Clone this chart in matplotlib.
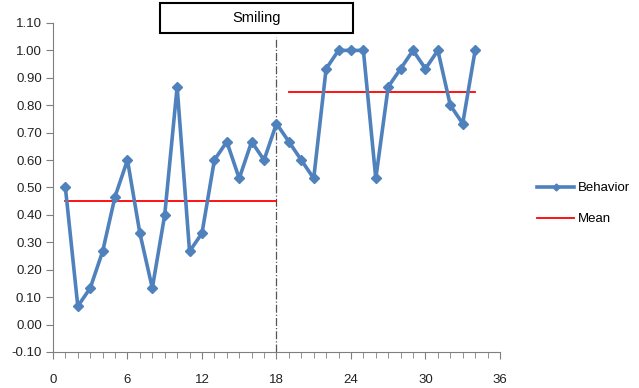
import matplotlib.pyplot as plt
import matplotlib.patches as patches
from matplotlib.ticker import MultipleLocator

plt.rcParams['font.family'] = ['Liberation Sans', 'DejaVu Sans']
plt.rcParams['font.size'] = 9.5

# session numbers and behavior proportions
sessions = list(range(1, 35))
behavior = [0.50, 0.067, 0.133, 0.267, 0.467, 0.60, 0.333, 0.133, 0.40, 0.867,
            0.267, 0.333, 0.60, 0.667, 0.533, 0.667, 0.60, 0.733,
            0.667, 0.60, 0.533, 0.933, 1.00, 1.00, 1.00, 0.533, 0.867, 0.933,
            1.00, 0.933, 1.00, 0.80, 0.733, 1.00]

# phase means (start session, end session, mean)
phase_start = [1, 19]
phase_end = [18, 34]
phase_mean = [0.45, 0.85]
phase_change = 18
title = 'Smiling'

fig = plt.figure(figsize=(6.39, 3.88), dpi=100)
ax = fig.add_axes([0.0829, 0.0928, 0.6995, 0.848])

blue = '#4F81BD'
ax.plot(sessions, behavior, color=blue, lw=2.6, marker='D', ms=5,
        label='Behavior', zorder=3)
for i in range(len(phase_mean)):
    ax.plot([phase_start[i], phase_end[i]], [phase_mean[i], phase_mean[i]],
            color='#FF0000', lw=1.3, label='Mean' if i == 0 else None, zorder=2)

ax.plot([phase_change, phase_change], [-0.1, 1.05], color='#555555', lw=0.9,
        ls='-.', zorder=1)

ax.set_xlim(0, 36)
ax.set_ylim(-0.1, 1.1)
ax.xaxis.set_major_locator(MultipleLocator(6))
ax.xaxis.set_minor_locator(MultipleLocator(1))
ax.yaxis.set_major_locator(MultipleLocator(0.1))
ax.yaxis.set_major_formatter(plt.FuncFormatter(lambda v, p: '%.2f' % v))
for s in ['top', 'right']:
    ax.spines[s].set_visible(False)
for s in ['left', 'bottom']:
    ax.spines[s].set_color('#7F7F7F')
ax.tick_params(axis='x', which='major', length=5, pad=11, color='#7F7F7F', labelcolor='#222222')
ax.tick_params(axis='x', which='minor', length=4, color='#7F7F7F')
ax.tick_params(axis='y', length=5, pad=3, color='#7F7F7F', labelcolor='#222222')

leg = ax.legend(loc='center left', bbox_to_anchor=(0.826, 0.475), bbox_transform=fig.transFigure,
                frameon=False, handlelength=2.8, labelspacing=1.4, handletextpad=0.3,
                fontsize=9.5, markerscale=0.7, borderpad=0.2)

fig.patches.append(patches.Rectangle((160 / 639, 1 - 33 / 388), 193 / 639, 30 / 388,
                                     transform=fig.transFigure, fill=False,
                                     edgecolor='black', lw=1.5))
fig.text(256.5 / 639, 1 - 18 / 388, title, ha='center', va='center', fontsize=10.5)

fig.savefig('out.png', dpi=100)
